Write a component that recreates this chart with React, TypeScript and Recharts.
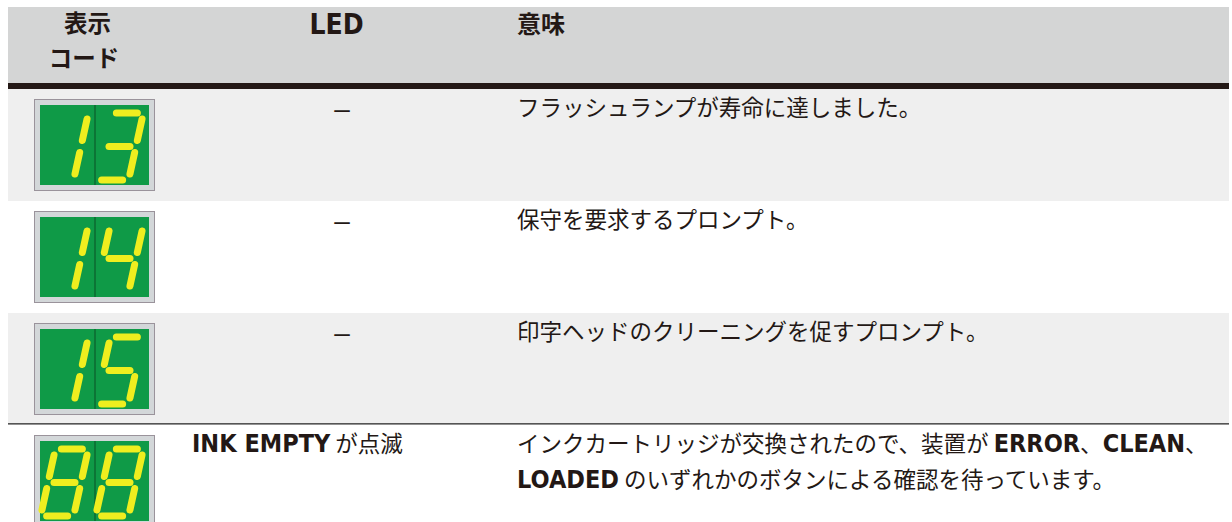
import { BarChart, Bar, XAxis, YAxis } from 'recharts';

// table content, one entry per row
const codes = ['13', '14', '15', '88'];
const ledLabels = ['–', '–', '–', '**INK EMPTY** が点滅'];
const meaningLines = [
  ['フラッシュランプが寿命に達しました。'],
  ['保守を要求するプロンプト。'],
  ['印字ヘッドのクリーニングを促すプロンプト。'],
  [
    'インクカートリッジが交換されたので、装置が **ERROR**、**CLEAN**、',
    '**LOADED** のいずれかのボタンによる確認を待っています。',
  ],
];
const codeHeader = ['表示', 'コード'];
const ledHeader = 'LED';
const meaningHeader = '意味';

const rows = codes.map((code, i) => ({
  code,
  led: ledLabels[i],
  meaning: meaningLines[i],
  row: i,
  span: 1,
}));

const INK = '#231815';
const CJK = '"Noto Sans CJK JP", "Noto Sans", sans-serif';
const LATIN_BOLD = '"Liberation Sans Narrow", "DejaVu Sans Condensed", "Liberation Sans", sans-serif';
const ROW_FILLS = ['#efefef', '#ffffff'];

const LED_LEFT = 192;
const DASH_CENTER = 342;
const MEANING_LEFT = 517;
const DISPLAY_LEFT = 34;

// seven segment map
const SEGMENTS: Record<string, string> = {
  '0': 'abcdef',
  '1': 'bc',
  '2': 'abdeg',
  '3': 'abcdg',
  '4': 'bcfg',
  '5': 'acdfg',
  '6': 'acdefg',
  '7': 'abc',
  '8': 'abcdefg',
  '9': 'abcdfg',
};

function Digit({ ch, left }: { ch: string; left: number }) {
  const T = 14;
  const M = 47.5;
  const B = 81;
  const L = left + 8;
  const R = left + 41;
  const slant = 0.22;
  const gap = 6;
  const pts: Record<string, [number, number, number, number]> = {
    a: [L, T, R, T],
    b: [R, T, R, M],
    c: [R, M, R, B],
    d: [L, B, R, B],
    e: [L, M, L, B],
    f: [L, T, L, M],
    g: [L, M, R, M],
  };
  return (
    <g>
      {(SEGMENTS[ch] || '').split('').map((s) => {
        const [x1, y1, x2, y2] = pts[s];
        const len = Math.hypot(x2 - x1, y2 - y1);
        const ux = (x2 - x1) / len;
        const uy = (y2 - y1) / len;
        const ax = x1 + ux * gap;
        const ay = y1 + uy * gap;
        const bx = x2 - ux * gap;
        const by = y2 - uy * gap;
        return (
          <line
            key={s}
            x1={ax + (M - ay) * slant}
            y1={ay}
            x2={bx + (M - by) * slant}
            y2={by}
            stroke="#efee1f"
            strokeWidth={7}
            strokeLinecap="round"
          />
        );
      })}
    </g>
  );
}

function CodeDisplay({ x, y, code }: { x: number; y: number; code: string }) {
  return (
    <g transform={`translate(${x},${y})`}>
      <rect x={0.5} y={0.5} width={120} height={91} fill="#d3d7d9" stroke="#9a939b" />
      <rect x={6} y={6} width={109} height={80} fill="#0f9a47" />
      <line x1={61} y1={6} x2={61} y2={86} stroke="#0a5027" strokeWidth={1} />
      {code.split('').map((ch, i) => (
        <Digit key={i} ch={ch} left={6 + i * 55} />
      ))}
    </g>
  );
}

function RichLine({ x, y, text }: { x: number; y: number; text: string }) {
  const parts = text.split('**');
  return (
    <text x={x} y={y} fill={INK} fontFamily={CJK} fontSize={22.5}>
      {parts.map((p, i) =>
        i % 2 === 1 ? (
          <tspan key={i} fontFamily={LATIN_BOLD} fontWeight={700} fontSize={25}>
            {p}
          </tspan>
        ) : (
          <tspan key={i}>{p}</tspan>
        ),
      )}
    </text>
  );
}

function RowShape(props: any) {
  const { x, y, width, height, payload } = props;
  const isDash = payload.led === '–';
  return (
    <g>
      <rect x={x} y={y} width={width} height={height} fill={ROW_FILLS[payload.row % 2]} />
      {payload.row === rows.length - 1 && (
        <rect x={x} y={y - 2} width={width} height={1.6} fill="#555555" />
      )}
      <CodeDisplay x={DISPLAY_LEFT} y={y + 10} code={payload.code} />
      {isDash ? (
        <text
          x={DASH_CENTER}
          y={y + 29}
          fill={INK}
          fontFamily='"Liberation Sans", sans-serif'
          fontSize={28}
          textAnchor="middle"
        >
          {payload.led}
        </text>
      ) : (
        <RichLine x={LED_LEFT} y={y + 27} text={payload.led} />
      )}
      {payload.meaning.map((line: string, i: number) => (
        <RichLine key={i} x={MEANING_LEFT} y={y + 27 + i * 36} text={line} />
      ))}
    </g>
  );
}

function Header() {
  return (
    <g>
      <rect x={8} y={7} width={1221} height={76} fill="#d4d5d5" />
      <rect x={8} y={83} width={1221} height={6} fill={INK} />
      <text x={87.5} y={32} fill={INK} fontFamily={CJK} fontWeight={700} fontSize={23.5} textAnchor="middle">
        {codeHeader[0]}
      </text>
      <text x={84} y={67} fill={INK} fontFamily={CJK} fontWeight={700} fontSize={23.5} textAnchor="middle">
        {codeHeader[1]}
      </text>
      <text x={336.5} y={34} fill={INK} fontFamily={LATIN_BOLD} fontWeight={700} fontSize={28} textAnchor="middle">
        {ledHeader}
      </text>
      <text x={MEANING_LEFT} y={33} fill={INK} fontFamily={CJK} fontWeight={700} fontSize={24}>
        {meaningHeader}
      </text>
    </g>
  );
}

export default function App() {
  return (
    <div
      style={{
        position: 'absolute',
        left: 0,
        top: 0,
        width: 1232,
        height: 522,
        overflow: 'hidden',
        background: '#ffffff',
      }}
    >
      <BarChart
        width={1232}
        height={537}
        data={rows}
        layout="vertical"
        margin={{ top: 89, right: 3, bottom: 0, left: 8 }}
        barCategoryGap={0}
      >
        <XAxis type="number" domain={[0, 1]} hide />
        <YAxis type="category" dataKey="code" hide />
        <Bar dataKey="span" isAnimationActive={false} shape={RowShape} />
        <Header />
      </BarChart>
    </div>
  );
}
